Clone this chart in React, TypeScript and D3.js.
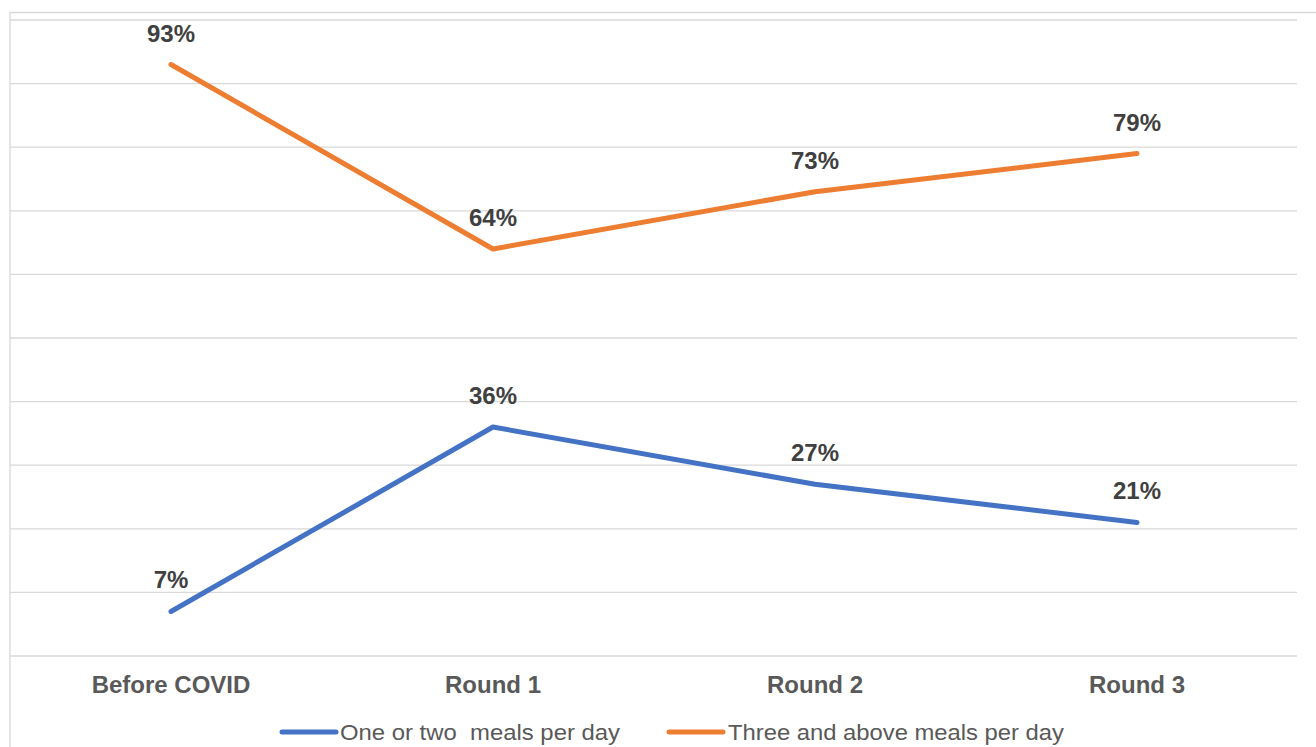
import React from "react";
import * as d3 from "d3";

const categories = ["Before COVID", "Round 1", "Round 2", "Round 3"];
const oneOrTwo = [7, 36, 27, 21];
const threeAbove = [93, 64, 73, 79];
const seriesNames = ["One or two  meals per day", "Three and above meals per day"];
const yTicks = [0, 10, 20, 30, 40, 50, 60, 70, 80, 90, 100];

const W = 1316;
const H = 747;

export default function App() {
  const x = d3.scaleBand<string>().domain(categories).range([10, 1298]);
  const y = d3.scaleLinear().domain([0, 100]).range([656, 20]);
  const cx = (c: string) => (x(c) as number) + x.bandwidth() / 2;
  const line = d3
    .line<number>()
    .x((_, i) => cx(categories[i]))
    .y((d) => y(d));
  const series = [
    { name: seriesNames[0], values: oneOrTwo, color: "#4472C4" },
    { name: seriesNames[1], values: threeAbove, color: "#ED7D31" },
  ];
  const legend = [
    { x1: 282, x2: 336, tx: 340, tl: 280 },
    { x1: 669, x2: 723, tx: 728, tl: 336 },
  ];
  return (
    <svg
      width={W}
      height={H}
      style={{ position: "absolute", left: 0, top: 0, background: "#fff" }}
      fontFamily="Liberation Sans, Arial, sans-serif"
    >
      <line x1={10} x2={W} y1={12.5} y2={12.5} stroke="#d9d9d9" strokeWidth={1.3} />
      <line x1={10} x2={10} y1={12} y2={H} stroke="#d9d9d9" strokeWidth={1.3} />
      {yTicks.map((t) => (
        <line key={t} x1={10} x2={1297} y1={y(t)} y2={y(t)} stroke="#d9d9d9" strokeWidth={1.3} />
      ))}
      {series.map((s) => (
        <path
          key={s.name}
          d={line(s.values) as string}
          fill="none"
          stroke={s.color}
          strokeWidth={5}
          strokeLinecap="round"
          strokeLinejoin="round"
        />
      ))}
      {series.map((s) =>
        s.values.map((v, i) => (
          <text
            key={s.name + i}
            x={cx(categories[i])}
            y={y(v) - 23}
            textAnchor="middle"
            fontSize={24}
            fontWeight="bold"
            fill="#404040"
          >
            {v}%
          </text>
        ))
      )}
      {categories.map((c) => (
        <text key={c} x={cx(c)} y={693} textAnchor="middle" fontSize={24} fontWeight="bold" fill="#595959">
          {c}
        </text>
      ))}
      {series.map((s, i) => (
        <g key={s.name}>
          <line
            x1={legend[i].x1}
            x2={legend[i].x2}
            y1={732}
            y2={732}
            stroke={s.color}
            strokeWidth={5}
            strokeLinecap="round"
          />
          <text
            x={legend[i].tx}
            y={740}
            fontSize={22}
            fill="#595959"
            textLength={legend[i].tl}
            lengthAdjust="spacingAndGlyphs"
            style={{ whiteSpace: "pre" }}
          >
            {s.name}
          </text>
        </g>
      ))}
    </svg>
  );
}
